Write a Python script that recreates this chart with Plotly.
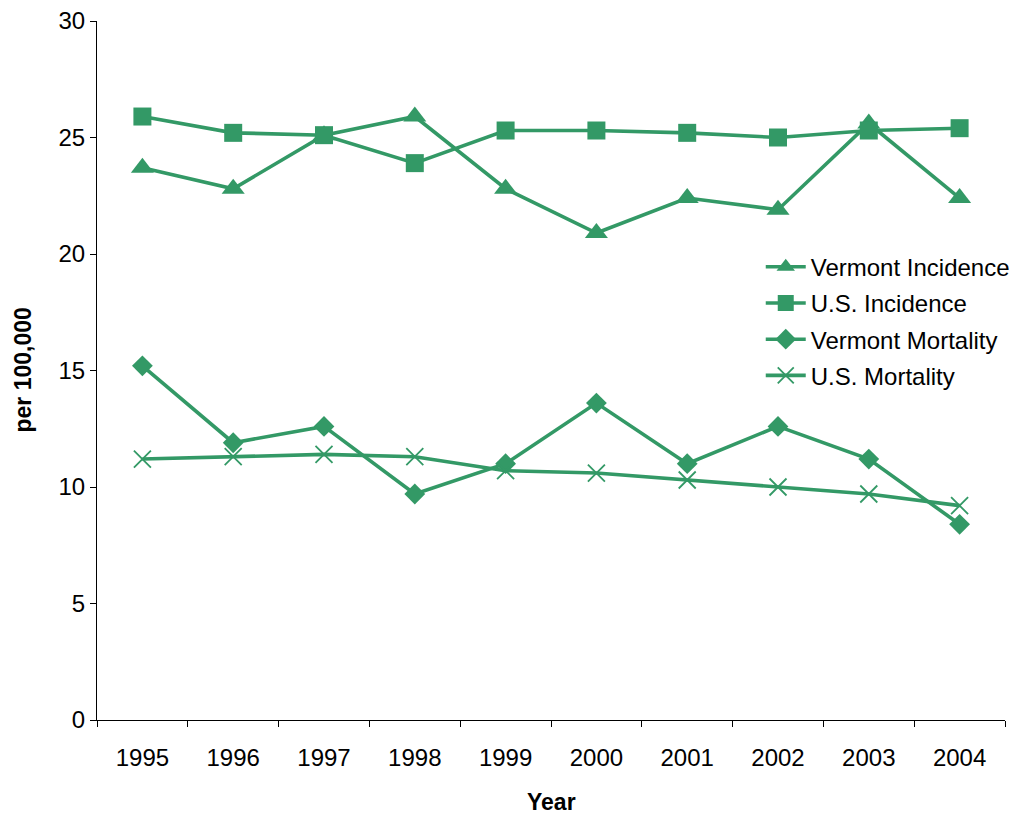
import plotly.graph_objects as go

years = ["1995", "1996", "1997", "1998", "1999", "2000", "2001", "2002", "2003", "2004"]
vermont_incidence = [23.7, 22.8, 25.1, 25.9, 22.8, 20.9, 22.4, 21.9, 25.6, 22.4]
us_incidence = [25.9, 25.2, 25.1, 23.9, 25.3, 25.3, 25.2, 25.0, 25.3, 25.4]
vermont_mortality = [15.2, 11.9, 12.6, 9.7, 11.0, 13.6, 11.0, 12.6, 11.2, 8.4]
us_mortality = [11.2, 11.3, 11.4, 11.3, 10.7, 10.6, 10.3, 10.0, 9.7, 9.2]

GREEN = "#339966"
FONT = "Liberation Sans, Arial, sans-serif"

series = [
    ("Vermont Incidence", vermont_incidence, dict(symbol="triangle-up", size=20)),
    ("U.S. Incidence", us_incidence, dict(symbol="square", size=18)),
    ("Vermont Mortality", vermont_mortality, dict(symbol="diamond", size=16)),
    ("U.S. Mortality", us_mortality, dict(symbol="x-thin-open", size=17,
                                          line=dict(width=1.8, color=GREEN))),
]

fig = go.Figure()
for i, (name, vals, mk) in enumerate(series):
    fig.add_trace(go.Scatter(
        x=years, y=vals, name=name, mode="lines+markers",
        line=dict(color=GREEN, width=3.6),
        marker=dict(color=GREEN, **mk),
        legendgroup=f"g{i}",
    ))

fig.update_layout(
    width=1028, height=816,
    margin=dict(l=97, r=23, t=21, b=96),
    paper_bgcolor="white", plot_bgcolor="white",
    font=dict(family=FONT, size=24, color="black"),
    showlegend=True,
    legend=dict(
        x=0.731, y=0.68, xanchor="left", yanchor="top",
        font=dict(size=24, family=FONT, color="black"),
        bgcolor="rgba(0,0,0,0)", traceorder="grouped", tracegroupgap=2,
        itemwidth=40,
    ),
    xaxis=dict(
        type="category", range=[-0.5, 9.5], tickson="boundaries",
        ticks="outside", ticklen=6, tickcolor="black", showline=True,
        linecolor="black", linewidth=1, showgrid=False, zeroline=False,
        tickfont=dict(size=24, family=FONT), ticklabelstandoff=16,
        automargin=False,
    ),
    yaxis=dict(
        range=[0, 30], dtick=5, ticks="outside", ticklen=6, tickcolor="black",
        showline=True, linecolor="black", linewidth=1, showgrid=False,
        zeroline=False, tickfont=dict(size=24, family=FONT), automargin=False,
    ),
    annotations=[
        dict(text="<b>per 100,000</b>", textangle=-90, xref="paper", yref="paper",
             x=0, y=0.5, xanchor="center", yanchor="middle", xshift=-75,
             showarrow=False, font=dict(size=23, family=FONT, color="black")),
        dict(text="<b>Year</b>", xref="paper", yref="paper", x=0.5, y=0,
             xanchor="center", yanchor="middle", yshift=-82, showarrow=False,
             font=dict(size=23, family=FONT, color="black")),
    ],
)

fig.write_html("out.html")
